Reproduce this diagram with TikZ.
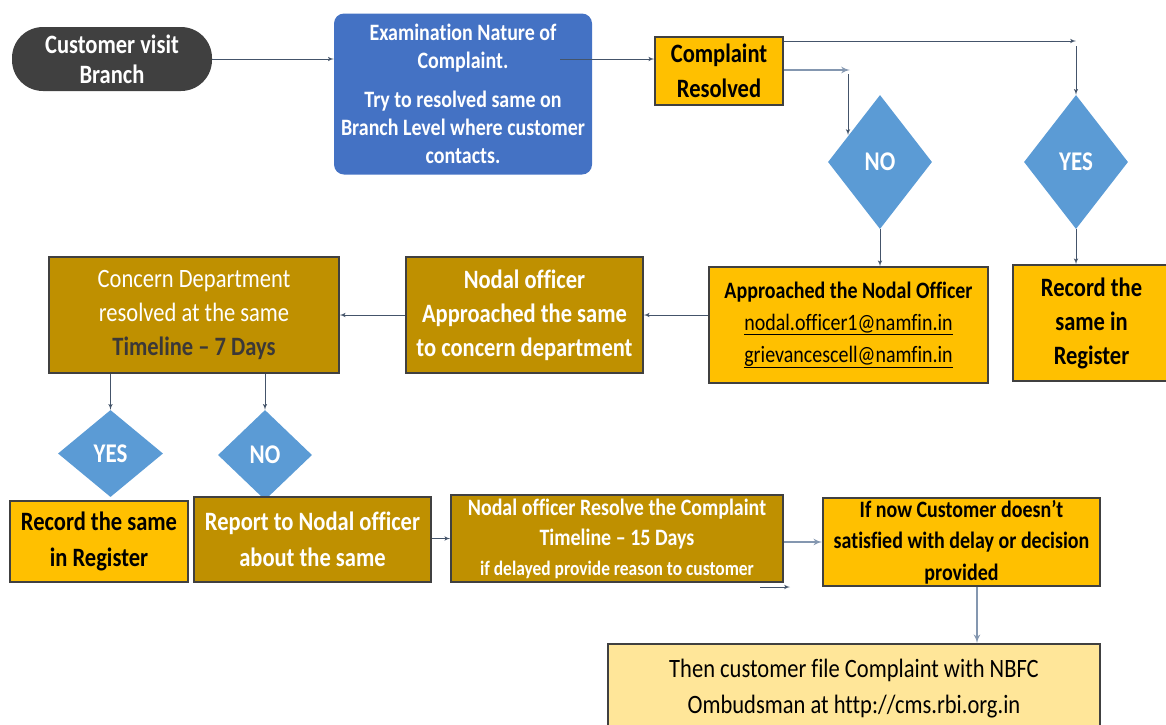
\documentclass[tikz,border=0pt]{standalone}
\usepackage{fontspec}
\setmainfont{Carlito}[FakeStretch=0.85, Ligatures=NoCommon]
\usepackage{xcolor}
\usepackage{tikz}
\usetikzlibrary{shapes.geometric, arrows}
\definecolor{pillgray}{HTML}{404040}
\definecolor{examblue}{HTML}{4472C4}
\definecolor{diamondblue}{HTML}{5B9BD5}
\definecolor{orangefill}{HTML}{FFC000}
\definecolor{goldfill}{HTML}{BF9000}
\definecolor{paleyellow}{HTML}{FFE699}
\definecolor{linkdark}{HTML}{44546A}
\definecolor{linklight}{HTML}{8497B0}
\definecolor{daysgray}{HTML}{3B3838}
\tikzset{
	>=latex', % small filled arrow heads
	box/.style={rectangle, draw=black!75, line width=1.5pt, inner sep=0pt, align=center}, % every framed step
	orangebox/.style={box, fill=orangefill, text=black},
	goldbox/.style={box, fill=goldfill, text=white},
	decision/.style={diamond, fill=diamondblue, text=white, inner sep=0pt, font=\fontsize{27}{30}\selectfont\bfseries}, % YES / NO
	link/.style={->, draw=linkdark, line width=1pt}, % thin connectors
	softlink/.style={->, draw=linklight, line width=2pt}, % lighter connectors
}
\newcommand{\bigtxt}{\fontsize{26.5}{34}\selectfont}
\newcommand{\midtxt}{\fontsize{23.5}{30}\selectfont}

\begin{document}
\begin{tikzpicture}[x=1pt, y=-1pt]
	\useasboundingbox (0,0) rectangle (1166,724);

	% Top row
	\node[fill=pillgray, rounded corners=31pt, minimum width=200pt, minimum height=64pt, inner sep=0pt,
		text=white, align=center, font=\fontsize{26.5}{30}\selectfont\bfseries] (visit) at (112,59) {Customer visit\\Branch};
	\node[fill=examblue, rounded corners=10pt, minimum width=258pt, minimum height=161pt, inner sep=0pt,
		text=white, align=center, font=\fontsize{23.5}{28}\selectfont\bfseries] (exam) at (463,94)
		{Examination Nature of\\Complaint.\\[11pt]Try to resolved same on\\Branch Level where customer\\contacts.};
	\node[orangebox, minimum width=128pt, minimum height=68pt, font=\fontsize{26.5}{35}\selectfont\bfseries] (resolved) at (719,71) {Complaint\\Resolved};
	\node[decision, minimum width=104pt, minimum height=134pt] (no1) at (880,162) {NO};
	\node[decision, minimum width=104pt, minimum height=134pt] (yes1) at (1076,162) {YES};

	% Middle row
	\node[orangebox, minimum width=279pt, minimum height=116pt, font=\fontsize{23.5}{32}\selectfont] (approach) at (848.5,325)
		{\textbf{Approached the Nodal Officer}\\\underline{nodal.officer1@namfin.in}\\\underline{grievancescell@namfin.in}};
	\node[orangebox, minimum width=157pt, minimum height=116pt, font=\bigtxt\bfseries] (record1) at (1091.5,323) {Record the\\same in\\Register};
	\node[goldbox, minimum width=237pt, minimum height=116pt, font=\bigtxt\bfseries] (nodal) at (524.5,315)
		{Nodal officer\\Approached the same\\to concern department};
	\node[goldbox, minimum width=290pt, minimum height=116pt, font=\bigtxt] (concern) at (194,315)
		{Concern Department\\resolved at the same\\\textcolor{daysgray}{\bfseries Timeline – 7 Days}};
	\node[decision, minimum width=105pt, minimum height=87pt] (yes2) at (110.5,453.5) {YES};
	\node[decision, minimum width=94pt, minimum height=90pt] (no2) at (265,455) {NO};

	% Bottom rows
	\node[orangebox, minimum width=178pt, minimum height=81pt, font=\fontsize{26.5}{36}\selectfont\bfseries] (record2) at (99,541.5) {Record the same\\in Register};
	\node[goldbox, minimum width=237pt, minimum height=85pt, font=\fontsize{26.5}{36}\selectfont\bfseries] (report) at (312.5,539.5) {Report to Nodal officer\\about the same};
	\node[goldbox, minimum width=332pt, minimum height=87pt, font=\midtxt\bfseries] (nresolve) at (617,538.5)
		{Nodal officer Resolve the Complaint\\Timeline – 15 Days\\{\fontsize{20.5}{30}\selectfont if delayed provide reason to customer}};
	\node[orangebox, minimum width=277pt, minimum height=88pt, font=\fontsize{23.5}{31.5}\selectfont\bfseries] (ifnow) at (961.5,542)
		{If now Customer doesn’t\\satisfied with delay or decision\\provided};
	\node[box, fill=paleyellow, minimum width=492pt, minimum height=90pt, font=\fontsize{26.5}{36}\selectfont] (then) at (854,689)
		{Then customer file Complaint with NBFC\\Ombudsman at http://cms.rbi.org.in};

	% Free ends of connectors
	\coordinate (examout) at (560,59);
	\coordinate (yesturn) at (1076,41);
	\coordinate (yesdrop) at (1076,46);
	\coordinate (noturn) at (850,70);
	\coordinate (nodrop) at (848,74);
	\coordinate (noin) at (848,135);
	\coordinate (straystart) at (760,587);
	\coordinate (strayend) at (790,587);

	% Transitions
	\draw[link] (visit.east) -- (visit.east -| exam.west);
	\draw[link] (examout) -- (examout -| resolved.west);
	\draw[link] (resolved.east |- yesturn) -- (yesturn);
	\draw[link] (yesdrop) -- (yes1.north);
	\draw[softlink] (resolved.east |- noturn) -- (noturn);
	\draw[link] (nodrop) -- (noin);
	\draw[link] (no1.south) -- (no1.south |- approach.north);
	\draw[link] (yes1.south) -- (yes1.south |- record1.north);
	\draw[link] (approach.west |- nodal.east) -- (nodal.east);
	\draw[link] (nodal.west) -- (concern.east);
	\draw[link] (concern.south -| yes2.north) -- (yes2.north);
	\draw[link] (concern.south -| no2.north) -- (no2.north);
	\draw[link] (report.east |- nresolve.west) -- (nresolve.west);
	\draw[softlink] (ifnow.west -| nresolve.east) -- (ifnow.west);
	\draw[link] (straystart) -- (strayend);
	\draw[softlink] ([xshift=15.5pt]ifnow.south) -- ([xshift=15.5pt]ifnow.south |- then.north);
\end{tikzpicture}
\end{document}
